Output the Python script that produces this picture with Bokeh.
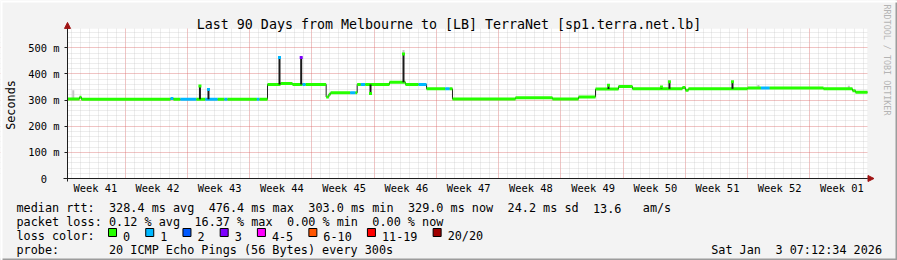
from math import pi
from bokeh.plotting import figure
from bokeh.models import FixedTicker, Label, BoxAnnotation, Arrow, NormalHead, ColumnDataSource
from bokeh.embed import file_html
from bokeh.resources import INLINE

# ---------------- data ----------------
TITLE = "Last 90 Days from Melbourne to [LB] TerraNet [sp1.terra.net.lb]"
SPAN_DAYS = 90

# median rtt as steps: start day of each step, value (ms), loss bucket index
seg_day = [0.0, 1.35, 1.57, 11.59, 11.92, 12.7, 14.5, 15.5, 16.9, 17.66, 18.0, 21.3, 21.6,
           22.5, 23.96, 25.31, 26.44, 26.8, 29.1, 29.4, 29.6, 31.8, 32.4, 32.59, 33.0, 33.5,
           36.22, 38.02, 39.5, 40.39, 42.5, 43.0, 43.31, 50.4, 54.56, 57.49, 59.4, 61.99,
           63.56, 69.18, 69.52, 69.86, 76.5, 78.0, 79.0, 85.05, 88.31, 88.65]
seg_ms = [304, 311, 303, 306, 303, 303, 303, 303, 303, 303, 303, 303, 303,
          360, 363, 360, 360, 360, 312, 322, 328, 328, 328, 360, 360, 360,
          368, 360, 360, 343, 343, 343, 304, 309, 304, 312, 342, 352,
          343, 348, 338, 343, 346, 346, 346, 343, 336, 330]
seg_loss = [0, 0, 0, 1, 0, 1, 0, 1, 0, 1, 0, 1, 0,
            0, 0, 0, 1, 0, 0, 0, 0, 1, 0, 0, 1, 0,
            0, 0, 1, 0, 1, 0, 0, 0, 0, 0, 0, 0,
            0, 0, 0, 0, 0, 1, 0, 0, 0, 0]

# short one-step excursions of the median
spike_day = [14.9, 15.86, 23.85, 26.29, 34.09, 37.8, 60.86, 66.82, 67.72, 74.81]
spike_base_ms = [303, 303, 360, 360, 360, 368, 342, 343, 343, 343]
spike_top_ms = [354, 340, 463, 463, 325, 476, 357, 350, 370, 370]
spike_loss = [0, 1, 1, 3, 0, 0, 0, 0, 0, 0]

# light smoke (ping spread)
smoke_day = [0.65, 37.8, 77.73, 87.9]
smoke_base_ms = [304, 476, 346, 343]
smoke_top_ms = [338, 492, 358, 355]

y_tick_ms = [0, 100, 200, 300, 400, 500]
y_tick_labels = ["0\u00a0\u00a0", "100 m", "200 m", "300 m", "400 m", "500 m"]
week_label_day = [3.125, 10.125, 17.125, 24.125, 31.125, 38.125, 45.125, 52.125,
                  59.125, 66.125, 73.125, 80.125, 87.125]
week_labels = ["Week 41", "Week 42", "Week 43", "Week 44", "Week 45", "Week 46", "Week 47",
               "Week 48", "Week 49", "Week 50", "Week 51", "Week 52", "Week 01"]
week_line_day = [6.5, 13.5, 20.5, 27.5, 34.5, 41.5, 48.5, 55.5, 62.5, 69.5, 76.5, 83.5]

row1_label = "median rtt:"
row1_items = ["328.4 ms avg", "476.4 ms max", "303.0 ms min", "329.0 ms now", "24.2 ms sd", "13.6", "am/s"]
row2_label = "packet loss:"
row2_items = ["0.12 % avg", "16.37 % max", "0.00 % min", "0.00 % now"]
row3_label = "loss color:"
loss_names = ["0", "1", "2", "3", "4-5", "6-10", "11-19", "20/20"]
loss_colors = ["#26ff00", "#00b8ff", "#0059ff", "#7e00ff", "#ff00fe", "#ff5500", "#ff0000", "#a00000"]
row4_label = "probe:"
row4_text = "20 ICMP Echo Pings (56 Bytes) every 300s"
date_parts = ["Sat Jan", "3 07:12:34 2026"]
watermark = "RRDTOOL / TOBI OETIKER"

# ---------------- geometry / styling ----------------
W, H = 897, 260
FONT = "DejaVu Sans Mono"
BG = "#f3f3f3"
AXIS = "#1e1e1e"
ARROW = "#a01414"
YMAX = 573.8                       # top of the plotting area (ms)
PX_DAY = 800 / SPAN_DAYS           # plotting area: x 67..867, y 28..178 (canvas px)
PX_MS = 150 / YMAX
x_lo, x_hi = -67 / PX_DAY, SPAN_DAYS + 30 / PX_DAY
y_lo, y_hi = -82 / PX_MS, 178 / PX_MS

p = figure(width=W, height=H, x_range=(x_lo, x_hi), y_range=(y_lo, y_hi),
           output_backend="svg", toolbar_location=None, min_border=0,
           background_fill_color=BG, border_fill_color=BG, outline_line_color=None)
p.title.visible = False

# white plotting area
p.add_layout(BoxAnnotation(left=0, right=SPAN_DAYS, bottom=0, top=YMAX, fill_color="white",
                           fill_alpha=1.0, line_color=None, level="image"))

# axes, pinned to the plotting area
xa = p.xaxis[0]
xa.fixed_location = 0
xa.bounds = (-0.45, SPAN_DAYS)
xa.ticker = FixedTicker(ticks=week_label_day)
xa.major_label_overrides = dict(zip(week_label_day, week_labels))
xa.major_tick_in = 0
xa.major_tick_out = 0
xa.minor_tick_in = 0
xa.minor_tick_out = 0
xa.major_label_standoff = 3
xa.major_label_text_font = FONT
xa.major_label_text_font_size = "10.4px"
xa.major_label_text_color = "black"
xa.axis_line_color = AXIS

ya = p.yaxis[0]
ya.fixed_location = 0
ya.bounds = (-10, YMAX)
ya.ticker = FixedTicker(ticks=y_tick_ms)
ya.major_label_overrides = dict(zip(y_tick_ms, y_tick_labels))
ya.major_tick_in = 0
ya.major_tick_out = 3
ya.major_tick_line_color = AXIS
ya.minor_tick_in = 0
ya.minor_tick_out = 0
ya.major_label_standoff = 5
ya.major_label_text_font = FONT
ya.major_label_text_font_size = "10.4px"
ya.major_label_text_color = "black"
ya.axis_line_color = AXIS
ya.axis_label = "Seconds"
ya.axis_label_text_font = FONT
ya.axis_label_text_font_size = "11.8px"
ya.axis_label_text_font_style = "normal"
ya.axis_label_text_color = "black"
ya.axis_label_standoff = 7

# grids
xg = p.xgrid[0]
xg.ticker = FixedTicker(ticks=week_line_day, minor_ticks=[0.5 + d for d in range(SPAN_DAYS)])
xg.grid_line_color = "#ff0000"
xg.grid_line_alpha = 0.35
xg.grid_line_dash = "1 1"
xg.minor_grid_line_color = "#c0c0c0"
xg.minor_grid_line_alpha = 0.55
xg.minor_grid_line_dash = "1 1"

yg = p.ygrid[0]
yg.ticker = FixedTicker(ticks=y_tick_ms[1:], minor_ticks=list(range(20, 580, 20)))
yg.grid_line_color = "#ff0000"
yg.grid_line_alpha = 0.35
yg.grid_line_dash = "1 1"
yg.minor_grid_line_color = "#c0c0c0"
yg.minor_grid_line_alpha = 0.55
yg.minor_grid_line_dash = "1 1"

# keep the grid inside the plotting area
for kw in [dict(right=0), dict(left=SPAN_DAYS), dict(left=0, right=SPAN_DAYS, bottom=YMAX),
           dict(left=0, right=SPAN_DAYS, top=0)]:
    p.add_layout(BoxAnnotation(fill_color=BG, fill_alpha=1.0, line_color=None,
                               level="underlay", **kw))

# smoke
p.segment(x0=smoke_day, x1=smoke_day, y0=smoke_base_ms, y1=smoke_top_ms,
          line_color="#c4c4c4", line_width=2)

# median line (thin dark line incl. vertical steps)
step_x = seg_day + [SPAN_DAYS]
step_y = seg_ms + [seg_ms[-1]]
p.step(step_x, step_y, mode="after", line_color="#202020", line_width=1)

# loss-coloured thick median segments
seg_end = seg_day[1:] + [SPAN_DAYS]
src = ColumnDataSource(dict(x0=seg_day, x1=seg_end, y=seg_ms,
                            c=[loss_colors[i] for i in seg_loss]))
p.segment(x0="x0", x1="x1", y0="y", y1="y", line_color="c", line_width=3,
          line_cap="butt", source=src)

# spikes
p.segment(x0=spike_day, x1=spike_day, y0=spike_base_ms, y1=spike_top_ms,
          line_color="#1a1a1a", line_width=2)
cap = ColumnDataSource(dict(x=spike_day, y=spike_top_ms, c=[loss_colors[i] for i in spike_loss]))
p.scatter(x="x", y="y", marker="square", size=3, fill_color="c", line_color=None, source=cap)

# axis arrows
p.add_layout(Arrow(end=NormalHead(size=6, fill_color=ARROW, line_color=ARROW, line_width=1),
                   x_start=0, y_start=YMAX, x_end=0, y_end=597, line_color=AXIS, line_width=1))
p.add_layout(Arrow(end=NormalHead(size=6, fill_color=ARROW, line_color=ARROW, line_width=1),
                   x_start=SPAN_DAYS, y_start=0, x_end=90.73, y_end=0, line_color=AXIS, line_width=1))


def txt(s, x, y, size="11.8px", align="left", color="black", angle=0.0, baseline="alphabetic"):
    p.add_layout(Label(x=x, y=y, x_units="canvas", y_units="canvas", text=s,
                       text_font=FONT, text_font_size=size, text_align=align,
                       text_baseline=baseline, text_color=color, angle=angle))


# title
txt(TITLE, 448.5, 24, size="13.3px", align="center")

# legend block
CW = 7.117
X0 = 16
rows_y = [207.5, 221.5, 235.5, 249.5]
txt(row1_label, X0, rows_y[0])
for s, col in zip(row1_items, [13, 27, 41, 55, 69, 81, 88]):
    txt(s, X0 + col * CW, rows_y[0])
txt(row2_label, X0, rows_y[1])
for s, col in zip(row2_items, [13, 25, 38, 50]):
    txt(s, X0 + col * CW, rows_y[1])
txt(row3_label, X0, rows_y[2])
bx = X0 + 13 * CW - 0.5
for name, colr in zip(loss_names, loss_colors):
    p.add_layout(BoxAnnotation(left=bx, right=bx + 8, top=228, bottom=236,
                               left_units="canvas", right_units="canvas",
                               top_units="canvas", bottom_units="canvas",
                               fill_color=colr, fill_alpha=1.0,
                               line_color="black", line_width=1, line_alpha=1.0))
    txt(name, bx + 14.5, rows_y[2])
    bx += (len(name) + 4.23) * CW
txt(row4_label, X0, rows_y[3])
txt(row4_text, X0 + 13 * CW, rows_y[3])
DATE_RIGHT = 881.5
txt(date_parts[0], DATE_RIGHT - 24 * CW, rows_y[3])
txt(date_parts[1], DATE_RIGHT, rows_y[3], align="right")

# watermark
txt(watermark, 886.5, 4, size="8.4px", color="#b4b4b4", angle=-pi / 2, baseline="middle")

# 3D frame shading
for l, r, t, b, c in [(0, W, 258, H, "#9c9c9c"), (W - 2, W, 0, H, "#9c9c9c"),
                      (0, W, 0, 2, "#ffffff"), (0, 2, 0, H, "#ffffff")]:
    p.add_layout(BoxAnnotation(left=l, right=r, top=t, bottom=b,
                               left_units="canvas", right_units="canvas",
                               top_units="canvas", bottom_units="canvas",
                               fill_color=c, fill_alpha=1.0, line_color=None))

open("out.html", "w").write(file_html(p, INLINE))
